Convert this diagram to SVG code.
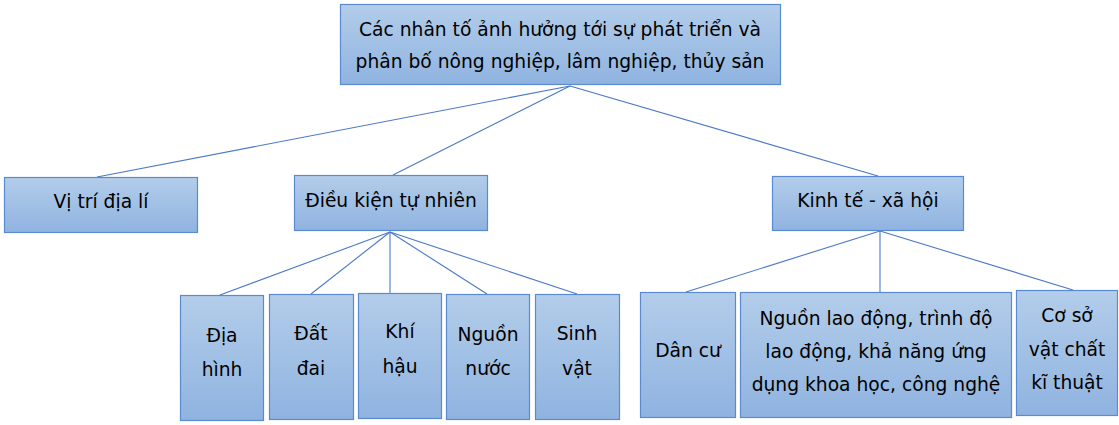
<svg xmlns="http://www.w3.org/2000/svg" width="1119" height="425" viewBox="0 0 1119 425">
<defs>
<linearGradient id="g" x1="0" y1="0" x2="0" y2="1">
<stop offset="0" stop-color="#b3cdea"/>
<stop offset="1" stop-color="#8fb3e0"/>
</linearGradient>
<style>
.box{fill:url(#g);stroke:#5a8bd0;stroke-width:1.2}
.t{font-family:"DejaVu Sans","Liberation Sans",sans-serif;font-size:18.7px;fill:#000;text-anchor:middle}
.c line{stroke:#4a78c8;stroke-width:1.1}
</style>
</defs>
<rect width="1119" height="425" fill="#fff"/>
<g class="c" id="connectors">
<line x1="570" y1="86" x2="97" y2="177"/>
<line x1="570" y1="86" x2="393" y2="175"/>
<line x1="570" y1="86" x2="878" y2="176"/>
<line x1="390" y1="232" x2="220" y2="295"/>
<line x1="390" y1="232" x2="311" y2="294"/>
<line x1="390" y1="232" x2="390" y2="293"/>
<line x1="390" y1="232" x2="487" y2="294"/>
<line x1="390" y1="232" x2="577" y2="294"/>
<line x1="880" y1="231" x2="686" y2="292"/>
<line x1="880" y1="231" x2="880" y2="292"/>
<line x1="880" y1="231" x2="1073" y2="290"/>
</g>
<g id="root"><rect class="box" x="340.5" y="4.5" width="440" height="80"/>
<text class="t" x="560" y="36">Các nhân tố ảnh hưởng tới sự phát triển và</text>
<text class="t" x="560" y="68">phân bố nông nghiệp, lâm nghiệp, thủy sản</text></g>
<g id="vitri"><rect class="box" x="4.5" y="177.5" width="193" height="55"/>
<text class="t" x="101" y="208">Vị trí địa lí</text></g>
<g id="dktn"><rect class="box" x="294.5" y="175.5" width="193" height="55"/>
<text class="t" x="391" y="207">Điều kiện tự nhiên</text></g>
<g id="ktxh"><rect class="box" x="772.5" y="176.5" width="191" height="54"/>
<text class="t" x="868" y="207">Kinh tế - xã hội</text></g>
<g id="diahinh"><rect class="box" x="180.5" y="295.5" width="83" height="125"/>
<text class="t" x="222" y="342">Địa</text><text class="t" x="222" y="376">hình</text></g>
<g id="datdai"><rect class="box" x="269.5" y="294.5" width="84" height="125"/>
<text class="t" x="311" y="340">Đất</text><text class="t" x="311" y="375">đai</text></g>
<g id="khihau"><rect class="box" x="358.5" y="293.5" width="83" height="125"/>
<text class="t" x="400" y="338">Khí</text><text class="t" x="400" y="373">hậu</text></g>
<g id="nguonnuoc"><rect class="box" x="446.5" y="294.5" width="83" height="125"/>
<text class="t" x="488" y="341">Nguồn</text><text class="t" x="488" y="375">nước</text></g>
<g id="sinhvat"><rect class="box" x="535.5" y="294.5" width="84" height="125"/>
<text class="t" x="577" y="340">Sinh</text><text class="t" x="577" y="375">vật</text></g>
<g id="dancu"><rect class="box" x="640.5" y="292.5" width="95" height="125"/>
<text class="t" x="688" y="357">Dân cư</text></g>
<g id="nguonlaodong"><rect class="box" x="740.5" y="292.5" width="271" height="125"/>
<text class="t" x="876" y="325">Nguồn lao động, trình độ</text>
<text class="t" x="876" y="358">lao động, khả năng ứng</text>
<text class="t" x="876" y="391">dụng khoa học, công nghệ</text></g>
<g id="cosovatchat"><rect class="box" x="1016.5" y="290.5" width="101" height="125"/>
<text class="t" x="1067" y="322">Cơ sở</text>
<text class="t" x="1067" y="356">vật chất</text>
<text class="t" x="1067" y="389">kĩ thuật</text></g>
</svg>
